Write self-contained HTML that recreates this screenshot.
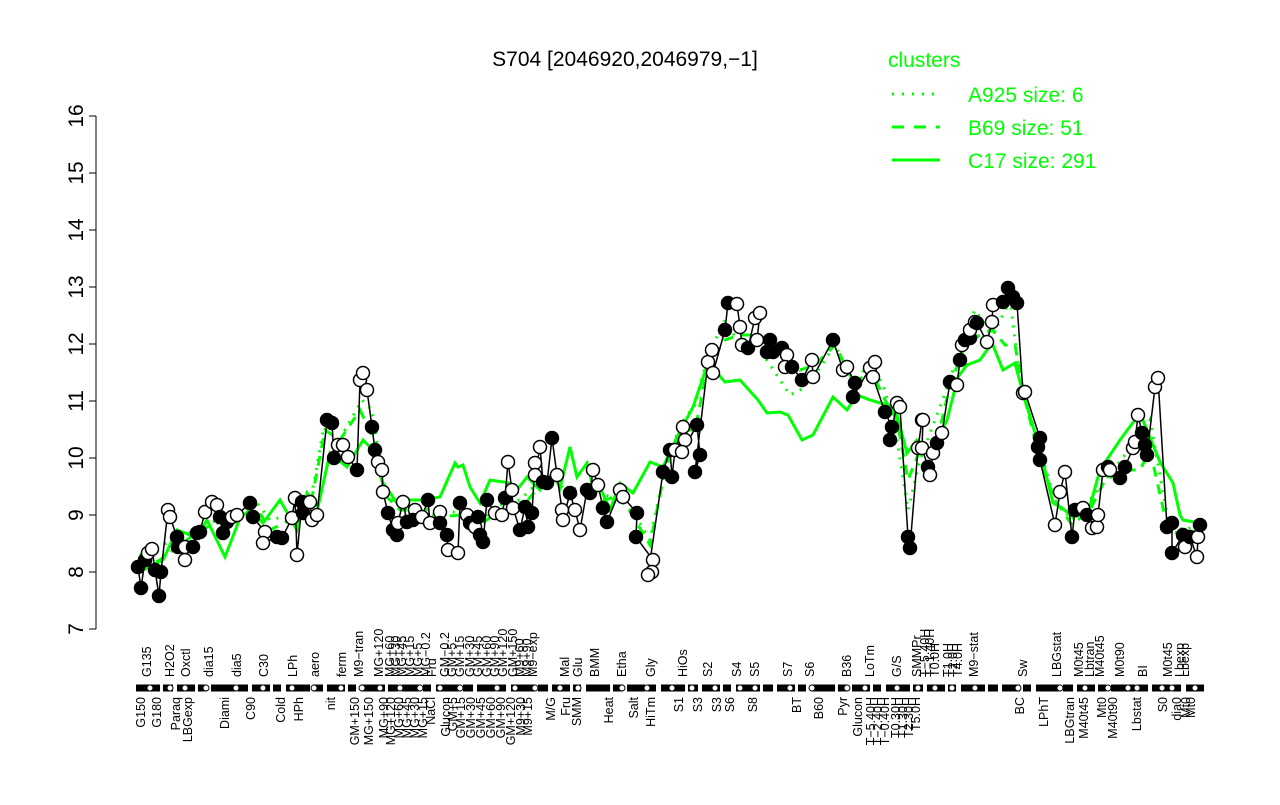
<!DOCTYPE html>
<html><head><meta charset="utf-8"><style>
body{margin:0;background:#fff;}
svg text{font-family:"Liberation Sans",sans-serif;}
.f{fill:#000;stroke:#000;stroke-width:1.5}
.o{fill:#fff;stroke:#000;stroke-width:1.5}
.lt text{font-size:12.5px}
</style></head><body>
<svg width="1280" height="800" xmlns="http://www.w3.org/2000/svg">
<rect width="1280" height="800" fill="#fff"/>
<text x="625" y="66" font-size="21" text-anchor="middle">S704 [2046920,2046979,−1]</text>
<line x1="96" y1="116" x2="96" y2="629" stroke="#000"/>
<g stroke="#000">
<line x1="89" y1="629" x2="96" y2="629"/><line x1="89" y1="572" x2="96" y2="572"/><line x1="89" y1="515" x2="96" y2="515"/><line x1="89" y1="458" x2="96" y2="458"/><line x1="89" y1="401" x2="96" y2="401"/><line x1="89" y1="344" x2="96" y2="344"/><line x1="89" y1="287" x2="96" y2="287"/><line x1="89" y1="230" x2="96" y2="230"/><line x1="89" y1="173" x2="96" y2="173"/><line x1="89" y1="116" x2="96" y2="116"/>
</g>
<g font-size="21" text-anchor="middle">
<text transform="translate(83,629) rotate(-90)">7</text>
<text transform="translate(83,572) rotate(-90)">8</text>
<text transform="translate(83,515) rotate(-90)">9</text>
<text transform="translate(83,458) rotate(-90)">10</text>
<text transform="translate(83,401) rotate(-90)">11</text>
<text transform="translate(83,344) rotate(-90)">12</text>
<text transform="translate(83,287) rotate(-90)">13</text>
<text transform="translate(83,230) rotate(-90)">14</text>
<text transform="translate(83,173) rotate(-90)">15</text>
<text transform="translate(83,116) rotate(-90)">16</text>
</g>
<g fill="none" stroke="#00ff00" stroke-width="3">
<polyline points="143,570 163,560 177,530 185,533 197,538 207,520 225,557 240,518 250,510 263,523 280,500 297,530 307,493 318,507 330,453 347,467 363,440 370,447 383,483 397,503 400,500 420,500 440,497 455,463 458,467 463,465 470,487 480,503 490,480 510,483 517,490 527,477 540,490 553,472 560,488 570,447 577,477 587,463 592,483 600,487 610,510 620,483 633,493 650,462 663,467 677,437 693,407 708,363 725,382 740,380 758,400 767,413 780,412 788,415 802,440 813,435 833,397 847,410 857,395 870,400 887,405 897,415 907,453 917,440 927,447 932,450 947,420 958,377 967,365 980,360 992,343 1003,370 1015,363 1023,393 1040,450 1053,503 1062,508 1073,517 1088,513 1100,470 1120,440 1140,413 1160,462 1173,483 1180,515 1183,520 1200,523"/>
<polyline stroke-dasharray="10,8" points="140,570 160,560 180,545 200,530 220,522 240,518 255,505 270,530 290,520 310,508 325,430 340,440 360,410 372,435 385,495 400,510 420,510 440,517 460,515 480,525 500,510 520,510 540,485 555,480 570,495 590,495 605,500 620,495 635,520 650,545 665,470 680,430 695,430 708,365 725,340 740,335 760,335 780,350 800,370 815,365 835,345 855,385 870,368 885,400 897,420 908,480 920,450 935,450 950,385 965,345 980,335 993,330 1005,345 1015,345 1025,400 1040,460 1055,500 1072,525 1090,510 1105,480 1125,470 1140,470 1150,450 1168,530 1183,535 1200,530"/>
<polyline stroke-dasharray="2,7" points="140,555 160,545 180,540 200,525 220,520 240,515 255,500 270,520 290,515 310,505 325,420 345,430 362,400 372,410 385,495 400,505 420,508 440,512 460,512 480,520 500,505 520,500 540,480 555,475 570,490 590,485 605,495 620,500 635,515 650,540 665,470 680,425 695,405 708,355 725,320 740,345 760,350 780,380 790,395 800,390 815,375 835,345 855,385 870,360 885,390 897,440 908,510 920,460 935,420 950,380 965,330 975,310 993,335 1010,300 1020,380 1040,450 1055,500 1072,520 1090,500 1105,480 1125,455 1140,440 1150,420 1168,520 1183,530 1200,525"/>
</g>
<polyline fill="none" stroke="#000" stroke-width="1.5" points="138,567 141,588 145,560 148,553 152,549 155,570 159,596 161,572 168,510 170,517 177,537 178,547 185,560 185,547 193,547 197,533 200,532 205,512 212,502 217,505 220,517 223,533 227,522 232,517 237,515 250,503 253,517 265,532 263,543 277,537 282,538 292,518 295,498 297,555 302,502 303,513 310,502 312,520 317,515 327,420 332,423 334,458 338,445 343,445 348,457 357,470 360,380 363,373 367,390 372,427 375,450 378,462 382,470 383,492 388,513 393,530 397,535 398,523 403,502 407,522 415,510 413,520 422,517 428,500 430,523 440,512 440,523 447,535 448,550 458,553 460,503 467,515 470,523 475,527 478,517 480,535 483,542 487,500 495,513 502,515 505,498 508,462 512,490 513,508 520,530 525,507 528,527 532,513 535,463 535,475 540,447 543,482 547,483 552,438 557,475 562,510 563,520 570,493 575,510 580,530 587,490 590,493 593,470 598,485 603,508 607,522 620,490 623,497 637,513 636,537 653,560 652,572 648,575 663,472 670,450 672,477 675,450 683,427 685,440 682,452 697,425 700,455 695,472 708,362 712,350 713,373 725,330 728,303 737,304 740,327 742,345 748,348 755,318 760,313 757,340 770,340 767,352 773,352 782,348 787,355 785,367 792,367 802,380 812,360 813,377 833,340 843,370 847,367 855,383 853,397 870,368 875,362 873,377 885,412 892,427 890,440 897,403 900,407 908,537 910,548 918,448 922,420 923,420 922,448 928,467 930,475 933,453 937,443 942,433 950,382 957,385 960,360 962,345 965,340 970,338 970,330 975,322 977,323 987,342 992,322 993,305 1003,302 1008,288 1013,297 1017,303 1023,393 1025,392 1040,438 1038,447 1040,460 1055,525 1060,492 1065,472 1072,537 1075,510 1083,508 1087,515 1092,528 1097,527 1098,515 1103,470 1108,467 1110,470 1120,478 1125,467 1133,448 1135,442 1138,415 1142,433 1145,445 1147,455 1155,387 1158,378 1167,527 1172,523 1172,553 1183,535 1185,547 1190,537 1197,557 1198,537"/>
<g>
<circle class="f" cx="138" cy="567" r="6.5"/><circle class="f" cx="141" cy="588" r="6.5"/><circle class="f" cx="145" cy="560" r="6.5"/><circle class="o" cx="148" cy="553" r="6.5"/><circle class="o" cx="152" cy="549" r="6.5"/><circle class="f" cx="155" cy="570" r="6.5"/><circle class="f" cx="159" cy="596" r="6.5"/><circle class="f" cx="161" cy="572" r="6.5"/><circle class="o" cx="168" cy="510" r="6.5"/><circle class="o" cx="170" cy="517" r="6.5"/><circle class="f" cx="177" cy="537" r="6.5"/><circle class="f" cx="178" cy="547" r="6.5"/><circle class="o" cx="185" cy="560" r="6.5"/><circle class="o" cx="185" cy="547" r="6.5"/><circle class="f" cx="193" cy="547" r="6.5"/><circle class="f" cx="197" cy="533" r="6.5"/><circle class="f" cx="200" cy="532" r="6.5"/><circle class="o" cx="205" cy="512" r="6.5"/><circle class="o" cx="212" cy="502" r="6.5"/><circle class="o" cx="217" cy="505" r="6.5"/><circle class="f" cx="220" cy="517" r="6.5"/><circle class="f" cx="223" cy="533" r="6.5"/><circle class="f" cx="227" cy="522" r="6.5"/><circle class="o" cx="232" cy="517" r="6.5"/><circle class="o" cx="237" cy="515" r="6.5"/><circle class="f" cx="250" cy="503" r="6.5"/><circle class="f" cx="253" cy="517" r="6.5"/><circle class="o" cx="265" cy="532" r="6.5"/><circle class="o" cx="263" cy="543" r="6.5"/><circle class="f" cx="277" cy="537" r="6.5"/><circle class="f" cx="282" cy="538" r="6.5"/><circle class="o" cx="292" cy="518" r="6.5"/><circle class="o" cx="295" cy="498" r="6.5"/><circle class="o" cx="297" cy="555" r="6.5"/><circle class="f" cx="302" cy="502" r="6.5"/><circle class="f" cx="303" cy="513" r="6.5"/><circle class="o" cx="310" cy="502" r="6.5"/><circle class="o" cx="312" cy="520" r="6.5"/><circle class="o" cx="317" cy="515" r="6.5"/><circle class="f" cx="327" cy="420" r="6.5"/><circle class="f" cx="332" cy="423" r="6.5"/><circle class="f" cx="334" cy="458" r="6.5"/><circle class="o" cx="338" cy="445" r="6.5"/><circle class="o" cx="343" cy="445" r="6.5"/><circle class="o" cx="348" cy="457" r="6.5"/><circle class="f" cx="357" cy="470" r="6.5"/><circle class="o" cx="360" cy="380" r="6.5"/><circle class="o" cx="363" cy="373" r="6.5"/><circle class="o" cx="367" cy="390" r="6.5"/><circle class="f" cx="372" cy="427" r="6.5"/><circle class="f" cx="375" cy="450" r="6.5"/><circle class="o" cx="378" cy="462" r="6.5"/><circle class="o" cx="382" cy="470" r="6.5"/><circle class="o" cx="383" cy="492" r="6.5"/><circle class="f" cx="388" cy="513" r="6.5"/><circle class="f" cx="393" cy="530" r="6.5"/><circle class="f" cx="397" cy="535" r="6.5"/><circle class="o" cx="398" cy="523" r="6.5"/><circle class="o" cx="403" cy="502" r="6.5"/><circle class="f" cx="407" cy="522" r="6.5"/><circle class="o" cx="415" cy="510" r="6.5"/><circle class="f" cx="413" cy="520" r="6.5"/><circle class="o" cx="422" cy="517" r="6.5"/><circle class="f" cx="428" cy="500" r="6.5"/><circle class="o" cx="430" cy="523" r="6.5"/><circle class="o" cx="440" cy="512" r="6.5"/><circle class="f" cx="440" cy="523" r="6.5"/><circle class="f" cx="447" cy="535" r="6.5"/><circle class="o" cx="448" cy="550" r="6.5"/><circle class="o" cx="458" cy="553" r="6.5"/><circle class="f" cx="460" cy="503" r="6.5"/><circle class="o" cx="467" cy="515" r="6.5"/><circle class="f" cx="470" cy="523" r="6.5"/><circle class="o" cx="475" cy="527" r="6.5"/><circle class="f" cx="478" cy="517" r="6.5"/><circle class="f" cx="480" cy="535" r="6.5"/><circle class="f" cx="483" cy="542" r="6.5"/><circle class="f" cx="487" cy="500" r="6.5"/><circle class="o" cx="495" cy="513" r="6.5"/><circle class="o" cx="502" cy="515" r="6.5"/><circle class="f" cx="505" cy="498" r="6.5"/><circle class="o" cx="508" cy="462" r="6.5"/><circle class="o" cx="512" cy="490" r="6.5"/><circle class="o" cx="513" cy="508" r="6.5"/><circle class="f" cx="520" cy="530" r="6.5"/><circle class="f" cx="525" cy="507" r="6.5"/><circle class="f" cx="528" cy="527" r="6.5"/><circle class="f" cx="532" cy="513" r="6.5"/><circle class="o" cx="535" cy="463" r="6.5"/><circle class="o" cx="535" cy="475" r="6.5"/><circle class="o" cx="540" cy="447" r="6.5"/><circle class="f" cx="543" cy="482" r="6.5"/><circle class="f" cx="547" cy="483" r="6.5"/><circle class="f" cx="552" cy="438" r="6.5"/><circle class="o" cx="557" cy="475" r="6.5"/><circle class="o" cx="562" cy="510" r="6.5"/><circle class="o" cx="563" cy="520" r="6.5"/><circle class="f" cx="570" cy="493" r="6.5"/><circle class="o" cx="575" cy="510" r="6.5"/><circle class="o" cx="580" cy="530" r="6.5"/><circle class="f" cx="587" cy="490" r="6.5"/><circle class="f" cx="590" cy="493" r="6.5"/><circle class="o" cx="593" cy="470" r="6.5"/><circle class="o" cx="598" cy="485" r="6.5"/><circle class="f" cx="603" cy="508" r="6.5"/><circle class="f" cx="607" cy="522" r="6.5"/><circle class="o" cx="620" cy="490" r="6.5"/><circle class="o" cx="623" cy="497" r="6.5"/><circle class="f" cx="637" cy="513" r="6.5"/><circle class="f" cx="636" cy="537" r="6.5"/><circle class="o" cx="653" cy="560" r="6.5"/><circle class="o" cx="652" cy="572" r="6.5"/><circle class="o" cx="648" cy="575" r="6.5"/><circle class="f" cx="663" cy="472" r="6.5"/><circle class="f" cx="670" cy="450" r="6.5"/><circle class="f" cx="672" cy="477" r="6.5"/><circle class="o" cx="675" cy="450" r="6.5"/><circle class="o" cx="683" cy="427" r="6.5"/><circle class="o" cx="685" cy="440" r="6.5"/><circle class="o" cx="682" cy="452" r="6.5"/><circle class="f" cx="697" cy="425" r="6.5"/><circle class="f" cx="700" cy="455" r="6.5"/><circle class="f" cx="695" cy="472" r="6.5"/><circle class="o" cx="708" cy="362" r="6.5"/><circle class="o" cx="712" cy="350" r="6.5"/><circle class="o" cx="713" cy="373" r="6.5"/><circle class="f" cx="725" cy="330" r="6.5"/><circle class="f" cx="728" cy="303" r="6.5"/><circle class="o" cx="737" cy="304" r="6.5"/><circle class="o" cx="740" cy="327" r="6.5"/><circle class="o" cx="742" cy="345" r="6.5"/><circle class="f" cx="748" cy="348" r="6.5"/><circle class="o" cx="755" cy="318" r="6.5"/><circle class="o" cx="760" cy="313" r="6.5"/><circle class="o" cx="757" cy="340" r="6.5"/><circle class="f" cx="770" cy="340" r="6.5"/><circle class="f" cx="767" cy="352" r="6.5"/><circle class="f" cx="773" cy="352" r="6.5"/><circle class="f" cx="782" cy="348" r="6.5"/><circle class="o" cx="787" cy="355" r="6.5"/><circle class="o" cx="785" cy="367" r="6.5"/><circle class="f" cx="792" cy="367" r="6.5"/><circle class="f" cx="802" cy="380" r="6.5"/><circle class="o" cx="812" cy="360" r="6.5"/><circle class="o" cx="813" cy="377" r="6.5"/><circle class="f" cx="833" cy="340" r="6.5"/><circle class="o" cx="843" cy="370" r="6.5"/><circle class="o" cx="847" cy="367" r="6.5"/><circle class="f" cx="855" cy="383" r="6.5"/><circle class="f" cx="853" cy="397" r="6.5"/><circle class="o" cx="870" cy="368" r="6.5"/><circle class="o" cx="875" cy="362" r="6.5"/><circle class="o" cx="873" cy="377" r="6.5"/><circle class="f" cx="885" cy="412" r="6.5"/><circle class="f" cx="892" cy="427" r="6.5"/><circle class="f" cx="890" cy="440" r="6.5"/><circle class="o" cx="897" cy="403" r="6.5"/><circle class="o" cx="900" cy="407" r="6.5"/><circle class="f" cx="908" cy="537" r="6.5"/><circle class="f" cx="910" cy="548" r="6.5"/><circle class="o" cx="918" cy="448" r="6.5"/><circle class="o" cx="922" cy="420" r="6.5"/><circle class="o" cx="923" cy="420" r="6.5"/><circle class="o" cx="922" cy="448" r="6.5"/><circle class="f" cx="928" cy="467" r="6.5"/><circle class="o" cx="930" cy="475" r="6.5"/><circle class="o" cx="933" cy="453" r="6.5"/><circle class="f" cx="937" cy="443" r="6.5"/><circle class="o" cx="942" cy="433" r="6.5"/><circle class="f" cx="950" cy="382" r="6.5"/><circle class="o" cx="957" cy="385" r="6.5"/><circle class="f" cx="960" cy="360" r="6.5"/><circle class="o" cx="962" cy="345" r="6.5"/><circle class="f" cx="965" cy="340" r="6.5"/><circle class="f" cx="970" cy="338" r="6.5"/><circle class="o" cx="970" cy="330" r="6.5"/><circle class="o" cx="975" cy="322" r="6.5"/><circle class="f" cx="977" cy="323" r="6.5"/><circle class="o" cx="987" cy="342" r="6.5"/><circle class="o" cx="992" cy="322" r="6.5"/><circle class="o" cx="993" cy="305" r="6.5"/><circle class="f" cx="1003" cy="302" r="6.5"/><circle class="f" cx="1008" cy="288" r="6.5"/><circle class="f" cx="1013" cy="297" r="6.5"/><circle class="f" cx="1017" cy="303" r="6.5"/><circle class="o" cx="1023" cy="393" r="6.5"/><circle class="o" cx="1025" cy="392" r="6.5"/><circle class="f" cx="1040" cy="438" r="6.5"/><circle class="f" cx="1038" cy="447" r="6.5"/><circle class="f" cx="1040" cy="460" r="6.5"/><circle class="o" cx="1055" cy="525" r="6.5"/><circle class="o" cx="1060" cy="492" r="6.5"/><circle class="o" cx="1065" cy="472" r="6.5"/><circle class="f" cx="1072" cy="537" r="6.5"/><circle class="f" cx="1075" cy="510" r="6.5"/><circle class="o" cx="1083" cy="508" r="6.5"/><circle class="f" cx="1087" cy="515" r="6.5"/><circle class="o" cx="1092" cy="528" r="6.5"/><circle class="o" cx="1097" cy="527" r="6.5"/><circle class="o" cx="1098" cy="515" r="6.5"/><circle class="o" cx="1103" cy="470" r="6.5"/><circle class="f" cx="1108" cy="467" r="6.5"/><circle class="o" cx="1110" cy="470" r="6.5"/><circle class="f" cx="1120" cy="478" r="6.5"/><circle class="f" cx="1125" cy="467" r="6.5"/><circle class="o" cx="1133" cy="448" r="6.5"/><circle class="o" cx="1135" cy="442" r="6.5"/><circle class="o" cx="1138" cy="415" r="6.5"/><circle class="f" cx="1142" cy="433" r="6.5"/><circle class="f" cx="1145" cy="445" r="6.5"/><circle class="f" cx="1147" cy="455" r="6.5"/><circle class="o" cx="1155" cy="387" r="6.5"/><circle class="o" cx="1158" cy="378" r="6.5"/><circle class="f" cx="1167" cy="527" r="6.5"/><circle class="f" cx="1172" cy="523" r="6.5"/><circle class="f" cx="1172" cy="553" r="6.5"/><circle class="f" cx="1183" cy="535" r="6.5"/><circle class="o" cx="1185" cy="547" r="6.5"/><circle class="f" cx="1190" cy="537" r="6.5"/><circle class="o" cx="1197" cy="557" r="6.5"/><circle class="o" cx="1198" cy="537" r="6.5"/><circle class="f" cx="1200" cy="525" r="6.5"/>
</g>
<line x1="136" y1="688" x2="1204" y2="688" stroke="#000" stroke-width="7" stroke-dasharray="24,3,10,4,18,3,8,5"/>
<g fill="#fff" stroke="#000" stroke-width="1">
<circle cx="150" cy="688" r="3"/><circle cx="170" cy="688" r="3"/><circle cx="185" cy="688" r="3"/><circle cx="206" cy="688" r="3"/><circle cx="236" cy="688" r="3"/><circle cx="263" cy="688" r="3"/><circle cx="292" cy="688" r="3"/><circle cx="314" cy="688" r="3"/><circle cx="341" cy="688" r="3"/><circle cx="362" cy="688" r="3"/><circle cx="380" cy="688" r="3"/><circle cx="400" cy="688" r="3"/><circle cx="420" cy="688" r="3"/><circle cx="440" cy="688" r="3"/><circle cx="460" cy="688" r="3"/><circle cx="497" cy="688" r="3"/><circle cx="515" cy="688" r="3"/><circle cx="535" cy="688" r="3"/><circle cx="560" cy="688" r="3"/><circle cx="578" cy="688" r="3"/><circle cx="622" cy="688" r="3"/><circle cx="647" cy="688" r="3"/><circle cx="672" cy="688" r="3"/><circle cx="692" cy="688" r="3"/><circle cx="715" cy="688" r="3"/><circle cx="740" cy="688" r="3"/><circle cx="755" cy="688" r="3"/><circle cx="790" cy="688" r="3"/><circle cx="812" cy="688" r="3"/><circle cx="847" cy="688" r="3"/><circle cx="865" cy="688" r="3"/><circle cx="897" cy="688" r="3"/><circle cx="918" cy="688" r="3"/><circle cx="935" cy="688" r="3"/><circle cx="952" cy="688" r="3"/><circle cx="975" cy="688" r="3"/><circle cx="1018" cy="688" r="3"/><circle cx="1060" cy="688" r="3"/><circle cx="1085" cy="688" r="3"/><circle cx="1108" cy="688" r="3"/><circle cx="1128" cy="688" r="3"/><circle cx="1137" cy="688" r="3"/><circle cx="1162" cy="688" r="3"/><circle cx="1172" cy="688" r="3"/><circle cx="1195" cy="688" r="3"/>
</g>
<g class="lt" text-anchor="start">
<text transform="translate(151,677) rotate(-90)">G135</text><text transform="translate(174,677) rotate(-90)">H2O2</text><text transform="translate(190,677) rotate(-90)">Oxctl</text><text transform="translate(213,677) rotate(-90)">dia15</text><text transform="translate(241,677) rotate(-90)">dia5</text><text transform="translate(268,677) rotate(-90)">C30</text><text transform="translate(297,677) rotate(-90)">LPh</text><text transform="translate(319,677) rotate(-90)">aero</text><text transform="translate(346,677) rotate(-90)">ferm</text><text transform="translate(363,677) rotate(-90)">M9−tran</text><text transform="translate(383,677) rotate(-90)">MG+120</text><text transform="translate(394,677) rotate(-90)">MG+60</text><text transform="translate(400,677) rotate(-90)">MG+30</text><text transform="translate(406,677) rotate(-90)">MG+45</text><text transform="translate(414,677) rotate(-90)">MG+15</text><text transform="translate(422,677) rotate(-90)">MG+5</text><text transform="translate(430,677) rotate(-90)">MG−0.2</text><text transform="translate(436,677) rotate(-90)">Fru</text><text transform="translate(449,677) rotate(-90)">GM−0.2</text><text transform="translate(456,677) rotate(-90)">GM+5</text><text transform="translate(464,677) rotate(-90)">GM+15</text><text transform="translate(474,677) rotate(-90)">GM+30</text><text transform="translate(482,677) rotate(-90)">GM+45</text><text transform="translate(491,677) rotate(-90)">GM+60</text><text transform="translate(499,677) rotate(-90)">GM+90</text><text transform="translate(507,677) rotate(-90)">GM+120</text><text transform="translate(517,677) rotate(-90)">GM+150</text><text transform="translate(524,677) rotate(-90)">M9+60</text><text transform="translate(531,677) rotate(-90)">M9+90</text><text transform="translate(537,677) rotate(-90)">M9−exp</text><text transform="translate(569,677) rotate(-90)">Mal</text><text transform="translate(582,677) rotate(-90)">Glu</text><text transform="translate(599,677) rotate(-90)">BMM</text><text transform="translate(626,677) rotate(-90)">Etha</text><text transform="translate(655,677) rotate(-90)">Gly</text><text transform="translate(687,677) rotate(-90)">HiOs</text><text transform="translate(712,677) rotate(-90)">S2</text><text transform="translate(741,677) rotate(-90)">S4</text><text transform="translate(759,677) rotate(-90)">S5</text><text transform="translate(792,677) rotate(-90)">S7</text><text transform="translate(814,677) rotate(-90)">S6</text><text transform="translate(851,677) rotate(-90)">B36</text><text transform="translate(874,677) rotate(-90)">LoTm</text><text transform="translate(901,677) rotate(-90)">G/S</text><text transform="translate(921,677) rotate(-90)">SMMPr</text><text transform="translate(929,677) rotate(-90)">T−5.40H</text><text transform="translate(934,677) rotate(-90)">T−1.40H</text><text transform="translate(939,677) rotate(-90)">T0.0H</text><text transform="translate(952,677) rotate(-90)">T1.0H</text><text transform="translate(957,677) rotate(-90)">T2.0H</text><text transform="translate(962,677) rotate(-90)">T4.0H</text><text transform="translate(978,677) rotate(-90)">M9−stat</text><text transform="translate(1027,677) rotate(-90)">Sw</text><text transform="translate(1061,677) rotate(-90)">LBGstat</text><text transform="translate(1083,677) rotate(-90)">M0t45</text><text transform="translate(1094,677) rotate(-90)">Lbtran</text><text transform="translate(1104,677) rotate(-90)">M40t45</text><text transform="translate(1124,677) rotate(-90)">M0t90</text><text transform="translate(1147,677) rotate(-90)">BI</text><text transform="translate(1172,677) rotate(-90)">M0t45</text><text transform="translate(1184,677) rotate(-90)">Lbexp</text><text transform="translate(1189,677) rotate(-90)">Lbexp</text>
</g>
<g class="lt" text-anchor="end">
<text transform="translate(145,697) rotate(-90)">G150</text><text transform="translate(161,697) rotate(-90)">G180</text><text transform="translate(180,697) rotate(-90)">Paraq</text><text transform="translate(192,697) rotate(-90)">LBGexp</text><text transform="translate(229,697) rotate(-90)">Diami</text><text transform="translate(255,697) rotate(-90)">C90</text><text transform="translate(285,697) rotate(-90)">Cold</text><text transform="translate(303,697) rotate(-90)">HPh</text><text transform="translate(335,697) rotate(-90)">nit</text><text transform="translate(359,697) rotate(-90)">GM+150</text><text transform="translate(373,697) rotate(-90)">MG+150</text><text transform="translate(388,697) rotate(-90)">MG+90</text><text transform="translate(395,697) rotate(-90)">MG+120</text><text transform="translate(403,697) rotate(-90)">MG+60</text><text transform="translate(411,697) rotate(-90)">MG+45</text><text transform="translate(419,697) rotate(-90)">MG+30</text><text transform="translate(427,697) rotate(-90)">MG+15</text><text transform="translate(435,697) rotate(-90)">NaCl</text><text transform="translate(450,697) rotate(-90)">Glucon</text><text transform="translate(457,697) rotate(-90)">GM+5</text><text transform="translate(465,697) rotate(-90)">GM+15</text><text transform="translate(475,697) rotate(-90)">GM+30</text><text transform="translate(485,697) rotate(-90)">GM+45</text><text transform="translate(495,697) rotate(-90)">GM+60</text><text transform="translate(505,697) rotate(-90)">GM+90</text><text transform="translate(515,697) rotate(-90)">GM+120</text><text transform="translate(525,697) rotate(-90)">M9+30</text><text transform="translate(532,697) rotate(-90)">M9+15</text><text transform="translate(555,697) rotate(-90)">M/G</text><text transform="translate(570,697) rotate(-90)">Fru</text><text transform="translate(581,697) rotate(-90)">SMM</text><text transform="translate(613,697) rotate(-90)">Heat</text><text transform="translate(638,697) rotate(-90)">Salt</text><text transform="translate(655,697) rotate(-90)">HiTm</text><text transform="translate(683,697) rotate(-90)">S1</text><text transform="translate(702,697) rotate(-90)">S3</text><text transform="translate(721,697) rotate(-90)">S3</text><text transform="translate(734,697) rotate(-90)">S6</text><text transform="translate(757,697) rotate(-90)">S8</text><text transform="translate(801,697) rotate(-90)">BT</text><text transform="translate(823,697) rotate(-90)">B60</text><text transform="translate(847,697) rotate(-90)">Pyr</text><text transform="translate(862,697) rotate(-90)">Glucon</text><text transform="translate(875,697) rotate(-90)">T−5.40H</text><text transform="translate(882,697) rotate(-90)">T−2.40H</text><text transform="translate(889,697) rotate(-90)">T−0.40H</text><text transform="translate(900,697) rotate(-90)">T0.30H</text><text transform="translate(907,697) rotate(-90)">T1.30H</text><text transform="translate(913,697) rotate(-90)">T2.30H</text><text transform="translate(920,697) rotate(-90)">T5.0H</text><text transform="translate(1024,697) rotate(-90)">BC</text><text transform="translate(1048,697) rotate(-90)">LPhT</text><text transform="translate(1074,697) rotate(-90)">LBGtran</text><text transform="translate(1088,697) rotate(-90)">M40t45</text><text transform="translate(1106,697) rotate(-90)">Mt0</text><text transform="translate(1117,697) rotate(-90)">M40t90</text><text transform="translate(1141,697) rotate(-90)">Lbstat</text><text transform="translate(1167,697) rotate(-90)">S0</text><text transform="translate(1181,697) rotate(-90)">dia0</text><text transform="translate(1190,697) rotate(-90)">Mt0</text><text transform="translate(1195,697) rotate(-90)">Mt0</text>
</g>
<text x="888" y="67" font-size="21" fill="#00ff00">clusters</text>
<line x1="892" y1="94" x2="940" y2="94" stroke="#00ff00" stroke-width="3" stroke-dasharray="2,8"/>
<line x1="892" y1="127" x2="940" y2="127" stroke="#00ff00" stroke-width="3" stroke-dasharray="12,10"/>
<line x1="892" y1="160" x2="940" y2="160" stroke="#00ff00" stroke-width="3"/>
<text x="968" y="102" font-size="21" fill="#00ff00">A925 size: 6</text>
<text x="968" y="135" font-size="21" fill="#00ff00">B69 size: 51</text>
<text x="968" y="168" font-size="21" fill="#00ff00">C17 size: 291</text>
</svg>
</body></html>
